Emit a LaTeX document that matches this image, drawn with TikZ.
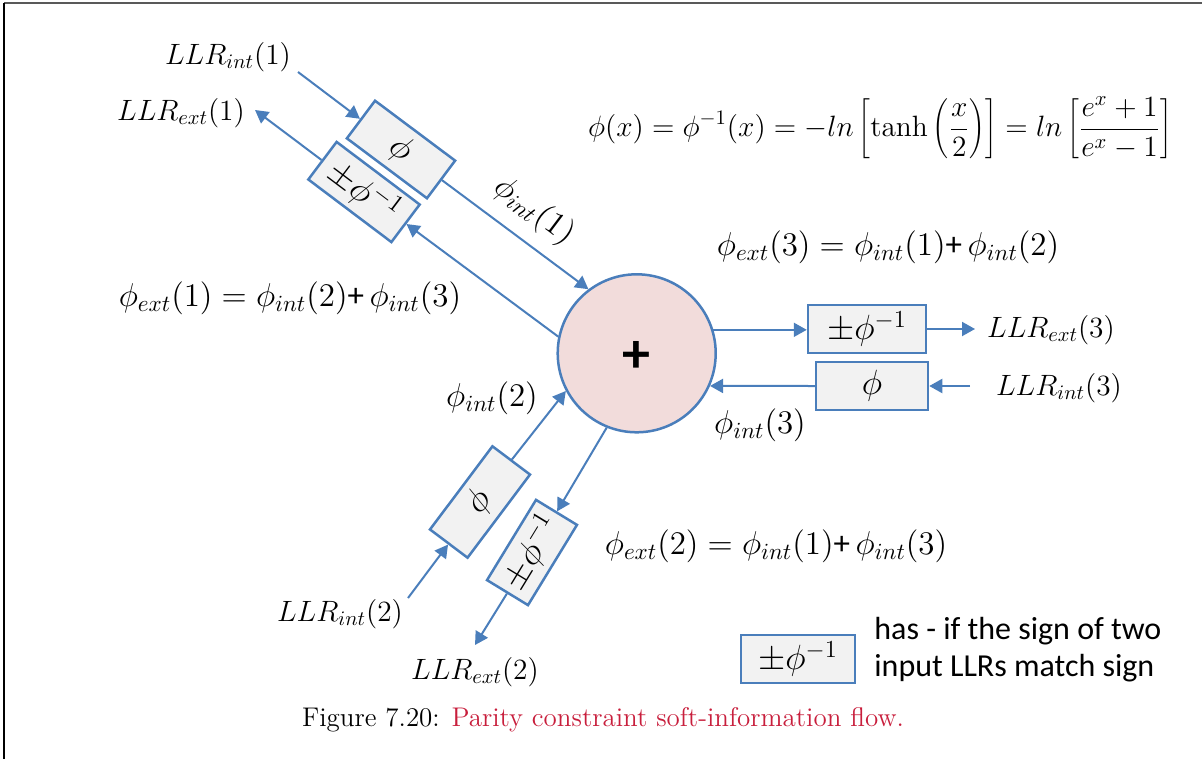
\documentclass[tikz,border=0pt]{standalone}
\usepackage{fix-cm}
\usepackage{fontspec}
\newfontfamily\calib{Carlito}
\usetikzlibrary{arrows.meta}
\definecolor{lblue}{RGB}{74,126,187}
\definecolor{bgray}{RGB}{242,242,242}
\definecolor{cpink}{RGB}{242,220,219}
\definecolor{capred}{RGB}{200,30,60}
\newcommand{\smplus}{\mbox{\calib +}\,}
\begin{document}
\begin{tikzpicture}[x=0.5pt,y=-0.5pt,
  conn/.style={draw=lblue,line width=1pt},
  arr/.style={conn,-{Triangle[length=6.5pt,width=7pt]}},
  fbox/.style={draw=lblue,fill=bgray,line width=1.25pt,inner sep=0pt,minimum height=23.5pt,font=\fontsize{17.5}{20}\selectfont},
  lbl/.style={inner sep=0pt,font=\fontsize{14.7}{17}\selectfont},
  plbl/.style={inner sep=0pt,font=\fontsize{16.5}{19}\selectfont},
]
\useasboundingbox (0,0) rectangle (1202,759);
\draw[black!65,line width=1pt] (4,3) -- (1202,3);
\draw[black,line width=1pt] (4,3) -- (4,759);

% summing node
\node[circle,draw=lblue,fill=cpink,line width=1.25pt,minimum size=79pt,inner sep=0pt] (c) at (636.7,353.3) {};
\node[font=\calib\bfseries\fontsize{28}{30}\selectfont,inner sep=0pt] (plus) at (636.7,356.7) {+};

% boxes
\node[fbox,minimum width=50pt,rotate=-36.8] (b1phi) at (401,149.5) {$\phi$};
\node[fbox,minimum width=52pt,rotate=-37] (b1inv) at (364,192) {$\pm\phi^{-1}$};
\node[fbox,minimum width=52pt,rotate=53.1] (b2phi) at (480,502) {$\phi$};
\node[fbox,minimum width=47pt,minimum height=24pt,rotate=58.6] (b2inv) at (532,552.5) {$\pm\phi^{-1}$};
\node[fbox,minimum width=59pt,minimum height=24pt] (b3inv) at (867,329) {$\pm\phi^{-1}$};
\node[fbox,minimum width=56pt,minimum height=24pt] (b3phi) at (872,386) {$\phi$};
\node[fbox,minimum width=57pt,minimum height=24pt] (leg) at (798,659) {$\pm\phi^{-1}$};

% free ends
\coordinate (i1s) at (298,72);
\coordinate (o1e) at (255,110);
\coordinate (i2s) at (408,598);
\coordinate (o2e) at (475,645);
\coordinate (o3e) at (975,329);
\coordinate (i3s) at (970,386);

% connectors
\draw[arr] (i1s) -- (b1phi.west);
\draw[arr] (b1phi.east) -- (c.127.6);
\draw[arr] (c.168.7) -- (b1inv.east);
\draw[arr] (b1inv.west) -- (o1e);
\draw[arr] (i2s) -- (b2phi.west);
\draw[arr] (b2phi.east) -- (c.208);
\draw[arr] (c.248) -- (b2inv.east);
\draw[arr] (b2inv.west) -- (o2e);
\draw[arr] (c.17.7) -- (c.17.7 -| b3inv.west);
\draw[arr] (b3inv.east) -- (o3e);
\draw[arr] (i3s) -- (b3phi.east);
\draw[arr] (b3phi.west) -- (c.-24);

% labels
\node[lbl] (l1i) at (228,57) {$LLR_{int}(1)$};
\node[lbl] (l1e) at (181,113) {$LLR_{ext}(1)$};
\node[plbl,rotate=-37] (p1) at (534,211) {$\phi_{int}(1)$};
\node[plbl] (e1) at (290,298) {$\phi_{ext}(1)=\phi_{int}(2)\smplus\phi_{int}(3)$};
\node[lbl] (form) at (880,128) {$\displaystyle \phi(x)=\phi^{-1}(x)=-ln\left[\tanh\left(\frac{x}{2}\right)\right]=ln\left[\frac{e^x+1}{e^x-1}\right]$};
\node[plbl] (e3) at (888,247) {$\phi_{ext}(3)=\phi_{int}(1)\smplus\phi_{int}(2)$};
\node[lbl] (l3e) at (1051,330) {$LLR_{ext}(3)$};
\node[lbl] (l3i) at (1059,388) {$LLR_{int}(3)$};
\node[plbl] (p3) at (760,425) {$\phi_{int}(3)$};
\node[plbl] (p2) at (492,398) {$\phi_{int}(2)$};
\node[plbl] (e2) at (776,546) {$\phi_{ext}(2)=\phi_{int}(1)\smplus\phi_{int}(3)$};
\node[lbl] (l2i) at (340,614) {$LLR_{int}(2)$};
\node[lbl] (l2e) at (475,672) {$LLR_{ext}(2)$};

% legend
\node[anchor=west,align=left,inner sep=0pt,font=\calib\fontsize{16}{18.5}\selectfont] (legtxt) at (874,650) {has - if the sign of two\\input LLRs match sign};

% caption
\node[inner sep=0pt,font=\fontsize{13.5}{16}\selectfont] (cap) at (603,720) {Figure 7.20: \textcolor{capred}{Parity constraint soft-information flow.}};
\end{tikzpicture}
\end{document}
